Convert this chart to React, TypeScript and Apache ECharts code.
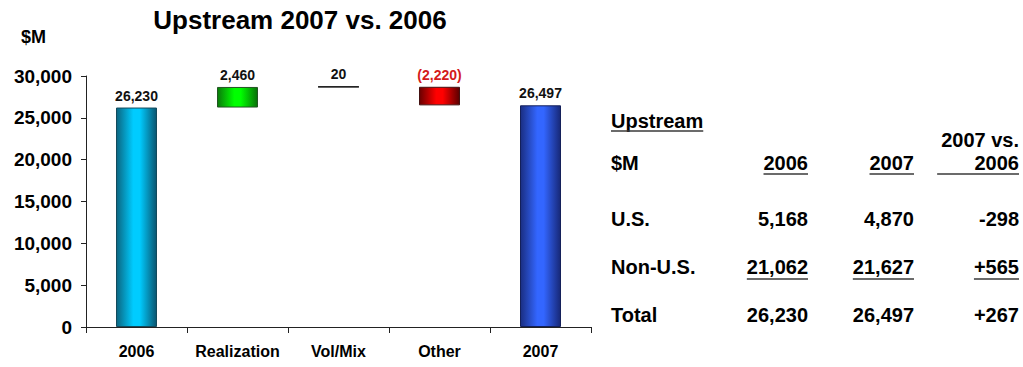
import React, { useEffect, useRef } from 'react';
import * as echarts from 'echarts';

const categories = ['2006', 'Realization', 'Vol/Mix', 'Other', '2007'];
const startValue = 26230;
const changes = [2460, 20, -2220];
const endValue = 26497;
const yMin = 0;
const yMax = 30000;
const yInterval = 5000;

const chartTitle = 'Upstream 2007 vs. 2006';
const unitLabel = '$M';
const tableTitle = 'Upstream';
const columnHeaders = ['2006', '2007', '2007 vs.\n2006'];
const rowLabels = ['U.S.', 'Non-U.S.', 'Total'];
const values2006 = [5168, 21062, 26230];
const values2007 = [4870, 21627, 26497];
const valuesDiff = [-298, 565, 267];

const FONT = '"Liberation Sans", Arial, sans-serif';
const fmt = (v: number) => Math.abs(v).toLocaleString('en-US');

const grad = (edgeL: string, mid: string, edgeR: string) => ({
  type: 'linear', x: 0, y: 0, x2: 1, y2: 0,
  colorStops: [
    { offset: 0, color: edgeL },
    { offset: 0.42, color: mid },
    { offset: 0.58, color: mid },
    { offset: 1, color: edgeR },
  ],
});

function measure(text: string, font: string) {
  const c = document.createElement('canvas').getContext('2d')!;
  c.font = font;
  return c.measureText(text).width;
}

export default function App() {
  const ref = useRef<HTMLDivElement>(null);
  useEffect(() => {
    const chart = echarts.init(ref.current!, null, { renderer: 'svg' });

    const bases: number[] = [0];
    const heights: number[] = [startValue];
    let running = startValue;
    changes.forEach((c) => {
      bases.push(c >= 0 ? running : running + c);
      heights.push(Math.abs(c));
      running += c;
    });
    bases.push(0);
    heights.push(endValue);

    const signed = [0, ...changes, 0];
    const styles = heights.map((_, i) => {
      if (i === 0) return { color: grad('#0b6580', '#00ccff', '#0a5570'), borderColor: '#134a5c', borderWidth: 1 };
      if (i === heights.length - 1) return { color: grad('#1a2e82', '#3366ff', '#172877'), borderColor: '#14205a', borderWidth: 1 };
      const c = signed[i];
      if (Math.abs(c) < 100) return { color: '#000', borderColor: '#000', borderWidth: 1 };
      if (c > 0) return { color: grad('#0a7a0a', '#00ff00', '#087008'), borderColor: '#225522', borderWidth: 1 };
      return { color: grad('#6a0000', '#ff0000', '#5a0000'), borderColor: '#441111', borderWidth: 1 };
    });

    const visible = heights.map((h, i) => {
      const c = signed[i];
      const isNeg = i > 0 && i < heights.length - 1 && c < 0;
      return {
        value: h,
        itemStyle: styles[i],
        label: {
          show: true,
          position: 'top',
          distance: 5,
          formatter: isNeg ? `(${fmt(c)})` : fmt(h),
          color: isNeg ? '#d41a1a' : '#111',
          fontSize: 14,
          fontWeight: 'bold',
          fontFamily: FONT,
        },
      };
    });

    const bigFont = `bold 20px ${FONT}`;
    const colRight = [808, 914, 1019];
    const leftX = 611;
    const yTitle = 121;
    const yHead1 = 140;
    const yHead = 163;
    const rowY = [219, 267, 315];
    const ulStyle = { stroke: '#3a3a3a', lineWidth: 1.6 };

    const txt = (text: string, x: number, y: number, align: string, font = bigFont, fill = '#000') => ({
      type: 'text',
      silent: true,
      style: {
        text, x, y, font, fill,
        align, textAlign: align,
        verticalAlign: 'middle', textVerticalAlign: 'middle',
      },
    });
    const ul = (x1: number, x2: number, y: number) => ({
      type: 'line',
      silent: true,
      shape: { x1, y1: y, x2, y2: y },
      style: ulStyle,
    });

    const elements: any[] = [];
    elements.push(txt(chartTitle, 300, 20, 'center', `bold 26px ${FONT}`));
    elements.push(txt(unitLabel, 21, 37, 'left', `bold 18px ${FONT}`));

    elements.push(txt(tableTitle, leftX, yTitle, 'left'));
    elements.push(ul(leftX, leftX + measure(tableTitle, bigFont), yTitle + 10));
    elements.push(txt(unitLabel, leftX, yHead, 'left'));
    columnHeaders.forEach((h, ci) => {
      const lines = h.split('\n');
      const x = colRight[ci];
      let w = 0;
      lines.forEach((ln, li) => {
        const y = lines.length === 1 ? yHead : li === 0 ? yHead1 : yHead;
        elements.push(txt(ln, x, y, 'right'));
        w = Math.max(w, measure(ln, bigFont));
      });
      if (lines.length > 1) w += 4;
      elements.push(ul(x - w, x, yHead + 11));
    });

    const cols = [
      values2006.map((v) => fmt(v)),
      values2007.map((v) => fmt(v)),
      valuesDiff.map((v) => (v < 0 ? '-' : '+') + fmt(v)),
    ];
    rowLabels.forEach((r, ri) => {
      elements.push(txt(r, leftX, rowY[ri], 'left'));
      cols.forEach((col, ci) => {
        elements.push(txt(col[ri], colRight[ci], rowY[ri], 'right'));
        if (ri === 1) {
          const w = measure(col[ri], bigFont);
          elements.push(ul(colRight[ci] - w, colRight[ci], rowY[ri] + 12));
        }
      });
    });

    chart.setOption({
      animation: false,
      grid: { left: 86, right: 432, top: 76, bottom: 40 },
      xAxis: {
        type: 'category',
        data: categories,
        axisLine: { lineStyle: { color: '#222', width: 1 } },
        axisTick: { show: true, length: 6, lineStyle: { color: '#222' } },
        axisLabel: {
          interval: 0,
          color: '#000', fontSize: 16, fontWeight: 'bold', fontFamily: FONT, margin: 16,
        },
      },
      yAxis: {
        type: 'value',
        min: yMin,
        max: yMax,
        interval: yInterval,
        splitLine: { show: false },
        axisLine: { show: true, lineStyle: { color: '#222', width: 1 } },
        axisTick: { show: true, length: 5, lineStyle: { color: '#222' } },
        axisLabel: {
          color: '#000', fontSize: 19, fontWeight: 'bold', fontFamily: FONT, margin: 14,
          formatter: (v: number) => v.toLocaleString('en-US'),
        },
      },
      series: [
        {
          type: 'bar',
          stack: 'w',
          data: bases,
          itemStyle: { color: 'transparent' },
          emphasis: { disabled: true },
          silent: true,
          barWidth: 41,
        },
        {
          type: 'bar',
          stack: 'w',
          data: visible,
          barWidth: 41,
        },
      ],
      graphic: { elements },
    });
    return () => chart.dispose();
  }, []);
  return (
    <div
      ref={ref}
      style={{ position: 'fixed', left: 0, top: 0, width: 1023, height: 367, background: '#fff' }}
    />
  );
}
